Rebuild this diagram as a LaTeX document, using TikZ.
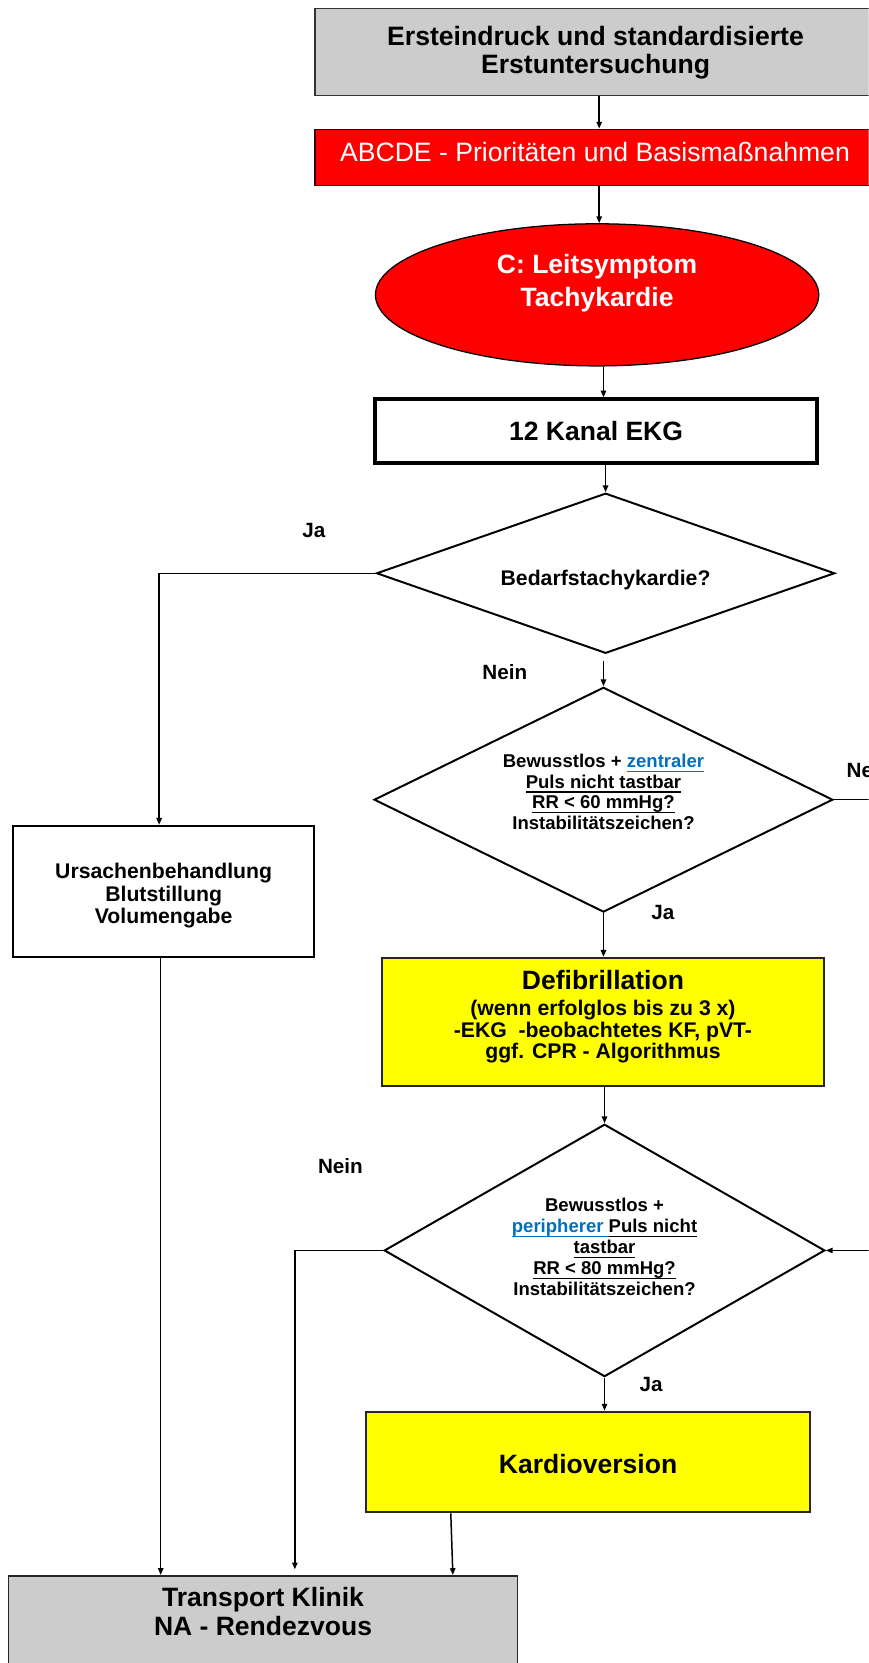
\documentclass[tikz,border=0pt]{standalone}
\usepackage{fontspec}
\setmainfont{Liberation Sans}
\usetikzlibrary{shapes.geometric,arrows.meta,calc}

\definecolor{boxgray}{HTML}{CCCCCC}
\definecolor{alarmred}{HTML}{FF0000}
\definecolor{signalyellow}{HTML}{FFFF00}
\definecolor{linkblue}{HTML}{0070C0}

% underline drawn as a rule at a fixed depth below the baseline
\newcommand\ulx[1]{\leavevmode\setbox0=\hbox{#1}\rlap{\rule[-3.3pt]{\wd0}{0.95pt}}\box0}

\tikzset{
  conn/.style={line width=1.05pt, -{Triangle[length=4.8pt,width=3.8pt]}},
  plainline/.style={line width=1.05pt},
  boxbase/.style={rectangle, inner sep=0pt, align=center},
  decision/.style={diamond, draw=black, line width=1.4pt, fill=white, inner sep=0pt},
  txt/.style={inner sep=0pt, align=center},
  lbl/.style={font=\fontsize{14.6}{16}\selectfont\bfseries, inner sep=0pt, anchor=base},
}

\begin{document}
\begin{tikzpicture}[x=0.75pt,y=-0.75pt]
  \useasboundingbox (0,0) rectangle (819,1568);
  \fill[white] (0,0) rectangle (819,1568);
  \clip (0,0) rectangle (819,1568);

  % ---- top chain ----
  \node[boxbase, draw=black!80, line width=1.2pt, fill=boxgray,
        minimum width=396.75pt, minimum height=61.5pt] (n1) at (561.5,49) {};
  \node[txt, font=\fontsize{18.8}{19.6}\selectfont\bfseries]
        (n1t) at (561.5,50) {Ersteindruck und standardisierte\\Erstuntersuchung};

  \node[boxbase, draw=black!75!red, line width=1.2pt, fill=alarmred,
        minimum width=396.75pt, minimum height=39.75pt] (n2) at (561.5,148.5) {};
  \node[txt, text=white, font=\fontsize{18.8}{20}\selectfont]
        (n2t) at (561,143.3) {ABCDE - Prioritäten und Basismaßnahmen};

  \node[ellipse, draw=black, line width=0.9pt, fill=alarmred, inner sep=0pt,
        minimum width=313.5pt, minimum height=100.5pt] (e3) at (563,278) {};
  \node[txt, text=white, font=\fontsize{18.75}{23.6}\selectfont\bfseries]
        (e3t) at (563,267) {C: Leitsymptom\\Tachykardie};

  \node[boxbase, draw=black, line width=2.8pt, fill=white,
        minimum width=312.5pt, minimum height=45pt,
        font=\fontsize{18.75}{20}\selectfont\bfseries]
        (n4) at (562,406.5) {12 Kanal EKG};

  % ---- first decision ----
  \node[decision, shape aspect=2.86, minimum width=324pt, minimum height=113.25pt]
        (d1) at (571,540.5) {};
  \node[txt, font=\fontsize{15}{17}\selectfont\bfseries]
        (d1t) at (571,546.5) {Bedarfstachykardie?};

  \node[boxbase, draw=black, line width=1.3pt, fill=white,
        minimum width=212.5pt, minimum height=92.6pt] (n5) at (154.3,840.25) {};
  \node[txt, font=\fontsize{15}{16.1}\selectfont\bfseries]
        (n5t) at (154.3,844.5) {Ursachenbehandlung\\Blutstillung\\Volumengabe};

  % ---- second decision ----
  \node[decision, shape aspect=2.04, minimum width=324.4pt, minimum height=159pt]
        (d2) at (569,754) {};
  \node[txt, font=\fontsize{13.1}{14.6}\selectfont\bfseries] (d2t) at (569,746.5)
        {Bewusstlos + {\color{linkblue}\ulx{zentraler}}\\
         \ulx{Puls nicht tastbar}\\
         \ulx{RR < 60 mmHg?}\\
         Instabilitätszeichen?};

  \node[boxbase, draw=black!85, line width=1.4pt, fill=signalyellow,
        minimum width=312.75pt, minimum height=90.4pt] (n6) at (568.5,963.3) {};
  \node[txt, font=\fontsize{15}{15.4}\selectfont\bfseries] (n6t) at (568.5,959)
        {{\fontsize{18.75}{20}\selectfont Defibrillation}\\[2.6pt]
         (wenn erfolglos bis zu 3 x)\\
         -EKG\ \ -beobachtetes KF, pVT-\\
         ggf. CPR - Algorithmus};

  % ---- third decision ----
  \node[decision, shape aspect=1.75, minimum width=311.6pt, minimum height=178.5pt]
        (d3) at (570,1179) {};
  \node[txt, font=\fontsize{13.1}{14.8}\selectfont\bfseries] (d3t) at (570,1175.5)
        {Bewusstlos +\\
         {\color{linkblue}\ulx{peripherer }}\ulx{Puls nicht}\\
         \ulx{tastbar}\\
         \ulx{RR < 80 mmHg?}\\
         Instabilitätszeichen?};

  \node[boxbase, draw=black!85, line width=1.4pt, fill=signalyellow,
        minimum width=313.5pt, minimum height=71.25pt] (n7) at (554.5,1378.5) {};
  \node[txt, font=\fontsize{18.75}{20}\selectfont\bfseries]
        (n7t) at (554.5,1380) {Kardioversion};

  % ---- final box ----
  \node[boxbase, draw=black!85, line width=1.3pt, fill=boxgray, anchor=north,
        minimum width=360pt, minimum height=90pt] (n8) at (248,1485) {};
  \node[txt, font=\fontsize{18.75}{19.9}\selectfont\bfseries] (n8t) at (248,1519.5)
        {Transport Klinik\\NA - Rendezvous};

  % ---- branch labels ----
  \node[lbl] (l1) at (296,507) {Ja};
  \node[lbl] (l2) at (476,641) {Nein};
  \node[lbl, anchor=base west] (l3) at (798,733) {Nein};
  \node[lbl] (l4) at (625,867) {Ja};
  \node[lbl] (l5) at (321,1106) {Nein};
  \node[lbl] (l6) at (614,1312) {Ja};

  \coordinate (outA) at (830,757);
  \coordinate (outB) at (830,1177);
  \coordinate (leftA) at (151.5,0);

  % ---- connectors ----
  \draw[conn] ([xshift=2.6pt]n1.south) -- ([xshift=2.6pt]n2.north);
  \draw[conn] ([xshift=2.6pt]n2.south) -- ([xshift=2.6pt]n2.south |- e3.north);
  \draw[conn] ([xshift=4.5pt]e3.south) -- ([xshift=4.5pt]e3.south |- n4.north);
  \draw[conn] (n4.south -| d1.north) -- (d1.north);
  \draw[conn] (d1.west) -| ([xshift=-3.2pt]n5.north);
  \draw[conn, shorten <=4.5pt] (d1.south -| d2.north) -- (d2.north);
  \draw[plainline] (d2.east) -- (d2.east -| outA);
  \draw[conn] (d2.south) -- (d2.south |- n6.north);
  \draw[conn] (n6.south -| d3.north) -- (d3.north);
  \draw[conn, shorten >=4pt] (d3.west) -| ([xshift=22.5pt]n8.north);
  \draw[conn] (d3.east -| outB) -- (d3.east);
  \draw[conn] (d3.south) -- (d3.south |- n7.north);
  \draw[conn] ([xshift=-97.1pt]n7.south) -- ([xshift=134.25pt]n8.north);
  \draw[conn] (n5.south -| leftA) -- (n8.north -| leftA);
\end{tikzpicture}
\end{document}
